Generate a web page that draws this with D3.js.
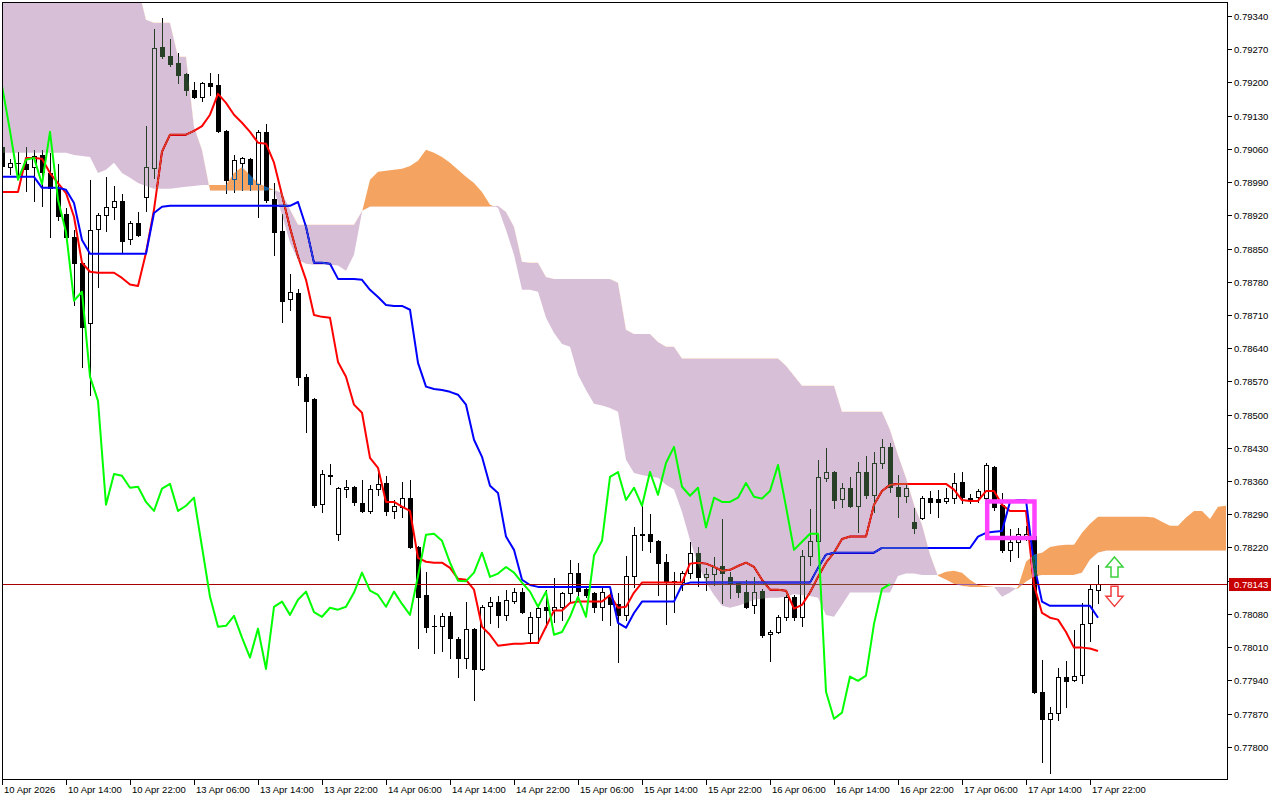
<!DOCTYPE html>
<html><head><meta charset="utf-8">
<script src="https://cdn.jsdelivr.net/npm/d3@7"></script>
<style>
html,body{margin:0;padding:0;background:#fff;}
svg{display:block;}
text{font-family:"Liberation Sans",Arial,sans-serif;font-size:9.5px;}
</style></head><body>
<svg id="chart" width="1280" height="800"></svg>
<script>
// ---- DATA (H1 bars, 10 Apr 06:00 .. 17 Apr 23:00) ----
const opens = [0.79064,0.79022,0.79031,0.79028,0.79022,0.79047,0.79009,0.78978,0.78923,0.78875,
 0.78820,0.78693,0.78891,0.78921,0.78938,0.78950,0.78870,0.78904,0.78959,0.79020,
 0.79275,0.79256,0.79241,0.79218,0.79184,0.79170,0.79199,0.79195,0.79098,0.78997,
 0.79031,0.79039,0.78986,0.79096,0.78955,0.78887,0.78744,0.78757,0.78580,0.78533,
 0.78312,0.78373,0.78249,0.78344,0.78348,0.78314,0.78297,0.78344,0.78356,0.78297,
 0.78306,0.78325,0.78222,0.78120,0.78054,0.78055,0.78076,0.78028,0.77988,0.78049,
 0.77964,0.78097,0.78106,0.78078,0.78108,0.78127,0.78040,0.78074,0.78095,0.78089,
 0.78095,0.78125,0.78167,0.78133,0.78125,0.78095,0.78120,0.78101,0.78078,0.78160,
 0.78247,0.78249,0.78234,0.78190,0.78150,0.78148,0.78167,0.78209,0.78158,0.78165,
 0.78181,0.78158,0.78146,0.78127,0.78099,0.78129,0.78038,0.78042,0.78074,0.78116,
 0.78074,0.78203,0.78234,0.78367,0.78380,0.78323,0.78346,0.78308,0.78379,0.78331,
 0.78398,0.78432,0.78348,0.78329,0.78274,0.78283,0.78325,0.78323,0.78318,0.78325,
 0.78358,0.78325,0.78327,0.78325,0.78390,0.78310,0.78215,0.78232,0.78243,0.78245,
 0.77916,0.77859,0.77872,0.77948,0.77941,0.77952,0.78061,0.78130];
const highs = [0.79066,0.79039,0.79054,0.79064,0.79058,0.79058,0.79052,0.79028,0.78936,0.78889,
 0.78822,0.78995,0.78925,0.79001,0.78982,0.78965,0.78908,0.78927,0.79108,0.79313,
 0.79336,0.79292,0.79262,0.79220,0.79201,0.79201,0.79220,0.79218,0.79100,0.79047,
 0.79043,0.79041,0.79100,0.79113,0.78988,0.78923,0.78797,0.78765,0.78586,0.78535,
 0.78384,0.78396,0.78348,0.78363,0.78350,0.78363,0.78352,0.78377,0.78371,0.78320,
 0.78358,0.78363,0.78224,0.78169,0.78078,0.78082,0.78084,0.78032,0.78106,0.78051,
 0.78099,0.78116,0.78118,0.78131,0.78135,0.78135,0.78084,0.78099,0.78131,0.78156,
 0.78127,0.78194,0.78188,0.78139,0.78127,0.78137,0.78131,0.78125,0.78203,0.78264,
 0.78308,0.78291,0.78236,0.78207,0.78169,0.78170,0.78232,0.78221,0.78177,0.78200,
 0.78280,0.78169,0.78148,0.78152,0.78158,0.78133,0.78047,0.78078,0.78120,0.78120,
 0.78215,0.78302,0.78405,0.78430,0.78382,0.78356,0.78369,0.78401,0.78413,0.78422,
 0.78449,0.78441,0.78373,0.78352,0.78304,0.78329,0.78339,0.78342,0.78346,0.78377,
 0.78379,0.78333,0.78344,0.78398,0.78392,0.78335,0.78259,0.78262,0.78266,0.78262,
 0.77983,0.77884,0.77966,0.77981,0.78047,0.78103,0.78141,0.78184];
const lows = [0.79020,0.79007,0.79001,0.78972,0.78950,0.78940,0.78875,0.78910,0.78868,0.78731,
 0.78601,0.78542,0.78769,0.78887,0.78913,0.78841,0.78860,0.78877,0.78929,0.78999,
 0.79252,0.79235,0.79199,0.79174,0.79167,0.79161,0.79174,0.79096,0.78967,0.78969,
 0.78974,0.78974,0.78917,0.78948,0.78837,0.78696,0.78721,0.78563,0.78464,0.78306,
 0.78295,0.78354,0.78236,0.78327,0.78310,0.78295,0.78293,0.78331,0.78289,0.78283,
 0.78285,0.78219,0.78009,0.78042,0.77998,0.78002,0.77988,0.77948,0.77966,0.77899,
 0.77962,0.78061,0.78053,0.78068,0.78103,0.78082,0.78021,0.78019,0.78053,0.78063,
 0.78068,0.78106,0.78120,0.78116,0.78084,0.78068,0.78057,0.77979,0.78068,0.78137,
 0.78215,0.78211,0.78120,0.78059,0.78084,0.78131,0.78156,0.78139,0.78131,0.78141,
 0.78103,0.78114,0.78116,0.78093,0.78082,0.78032,0.77981,0.78040,0.78068,0.78068,
 0.78055,0.78184,0.78230,0.78361,0.78304,0.78306,0.78306,0.78253,0.78325,0.78295,
 0.78388,0.78337,0.78285,0.78316,0.78251,0.78280,0.78293,0.78285,0.78314,0.78314,
 0.78314,0.78314,0.78316,0.78321,0.78299,0.78211,0.78192,0.78200,0.78236,0.77914,
 0.77768,0.77745,0.77857,0.77884,0.77939,0.77935,0.78023,0.78103];
const closes = [0.79024,0.79031,0.79031,0.79018,0.79045,0.79012,0.78978,0.78919,0.78875,0.78820,
 0.78685,0.78889,0.78921,0.78938,0.78950,0.78866,0.78904,0.78879,0.79022,0.79273,
 0.79256,0.79239,0.79216,0.79184,0.79170,0.79199,0.79193,0.79098,0.78995,0.79037,
 0.79041,0.78986,0.79096,0.78953,0.78885,0.78740,0.78759,0.78580,0.78529,0.78310,
 0.78375,0.78371,0.78346,0.78348,0.78316,0.78297,0.78344,0.78354,0.78297,0.78308,
 0.78325,0.78221,0.78116,0.78053,0.78055,0.78076,0.78030,0.77988,0.78049,0.77964,
 0.78095,0.78106,0.78078,0.78110,0.78127,0.78084,0.78074,0.78093,0.78089,0.78095,
 0.78125,0.78167,0.78129,0.78120,0.78095,0.78127,0.78101,0.78078,0.78160,0.78247,
 0.78249,0.78234,0.78188,0.78150,0.78149,0.78167,0.78209,0.78158,0.78165,0.78179,
 0.78167,0.78146,0.78127,0.78095,0.78127,0.78036,0.78042,0.78074,0.78116,0.78074,
 0.78203,0.78234,0.78369,0.78379,0.78320,0.78346,0.78308,0.78379,0.78331,0.78398,
 0.78432,0.78348,0.78329,0.78346,0.78262,0.78325,0.78316,0.78316,0.78325,0.78356,
 0.78327,0.78323,0.78339,0.78394,0.78306,0.78215,0.78232,0.78249,0.78249,0.77916,
 0.77859,0.77872,0.77948,0.77939,0.77950,0.78059,0.78133,0.78143];

// Tenkan-sen (red)
const tenkan = [0.78969,0.78969,0.78969,0.79041,0.79041,0.79039,0.79009,0.78988,0.78967,0.78917,
 0.78820,0.78801,0.78799,0.78799,0.78799,0.78788,0.78774,0.78771,0.78841,0.78932,
 0.79054,0.79090,0.79090,0.79090,0.79098,0.79108,0.79132,0.79176,0.79157,0.79132,
 0.79115,0.79096,0.79073,0.79071,0.79031,0.78963,0.78894,0.78833,0.78784,0.78710,
 0.78706,0.78704,0.78611,0.78580,0.78521,0.78504,0.78409,0.78388,0.78316,0.78316,
 0.78306,0.78297,0.78198,0.78190,0.78188,0.78188,0.78177,0.78154,0.78152,0.78131,
 0.78053,0.78036,0.78013,0.78015,0.78017,0.78017,0.78019,0.78019,0.78053,0.78087,
 0.78087,0.78103,0.78106,0.78106,0.78106,0.78106,0.78120,0.78093,0.78095,0.78125,
 0.78146,0.78146,0.78146,0.78146,0.78146,0.78146,0.78186,0.78188,0.78186,0.78179,
 0.78171,0.78173,0.78181,0.78188,0.78179,0.78152,0.78131,0.78131,0.78129,0.78091,
 0.78099,0.78125,0.78158,0.78188,0.78209,0.78238,0.78243,0.78243,0.78243,0.78310,
 0.78339,0.78352,0.78354,0.78354,0.78354,0.78354,0.78354,0.78354,0.78354,0.78342,
 0.78320,0.78318,0.78318,0.78339,0.78339,0.78310,0.78297,0.78297,0.78297,0.78141,
 0.78082,0.78072,0.78068,0.78042,0.78009,0.78009,0.78007,0.78002];
// Kijun-sen (blue)
const kijun = [0.79001,0.79001,0.79001,0.79001,0.79001,0.78978,0.78978,0.78978,0.78974,0.78946,
 0.78868,0.78839,0.78839,0.78839,0.78839,0.78839,0.78839,0.78839,0.78839,0.78925,
 0.78938,0.78940,0.78940,0.78940,0.78940,0.78940,0.78940,0.78940,0.78940,0.78940,
 0.78940,0.78940,0.78940,0.78940,0.78940,0.78940,0.78940,0.78948,0.78896,0.78820,
 0.78820,0.78818,0.78786,0.78786,0.78786,0.78784,0.78763,0.78748,0.78731,0.78729,
 0.78729,0.78721,0.78609,0.78559,0.78554,0.78552,0.78548,0.78542,0.78521,0.78447,
 0.78411,0.78350,0.78335,0.78243,0.78215,0.78152,0.78141,0.78137,0.78137,0.78137,
 0.78137,0.78137,0.78137,0.78137,0.78137,0.78137,0.78137,0.78061,0.78051,0.78082,
 0.78106,0.78106,0.78106,0.78106,0.78106,0.78141,0.78146,0.78146,0.78146,0.78146,
 0.78146,0.78146,0.78146,0.78146,0.78146,0.78146,0.78146,0.78146,0.78146,0.78146,
 0.78146,0.78146,0.78177,0.78205,0.78209,0.78209,0.78209,0.78209,0.78209,0.78209,
 0.78219,0.78219,0.78219,0.78219,0.78219,0.78219,0.78219,0.78219,0.78219,0.78219,
 0.78219,0.78219,0.78243,0.78251,0.78253,0.78255,0.78316,0.78320,0.78320,0.78184,
 0.78106,0.78097,0.78097,0.78097,0.78097,0.78097,0.78097,0.78072];
// Chikou span (green), bars 0..111
const chikou = [0.79193,0.79098,0.78995,0.79037,0.79041,0.78986,0.79096,0.78953,0.78885,0.78740,
 0.78759,0.78580,0.78529,0.78310,0.78375,0.78371,0.78346,0.78348,0.78316,0.78297,
 0.78344,0.78354,0.78297,0.78308,0.78325,0.78221,0.78116,0.78053,0.78055,0.78076,
 0.78030,0.77988,0.78049,0.77964,0.78095,0.78106,0.78078,0.78110,0.78127,0.78084,
 0.78074,0.78093,0.78089,0.78095,0.78125,0.78167,0.78129,0.78120,0.78095,0.78127,
 0.78101,0.78078,0.78160,0.78247,0.78249,0.78234,0.78188,0.78150,0.78149,0.78167,
 0.78209,0.78158,0.78165,0.78179,0.78167,0.78146,0.78127,0.78095,0.78127,0.78036,
 0.78042,0.78074,0.78116,0.78074,0.78203,0.78234,0.78369,0.78379,0.78320,0.78346,
 0.78308,0.78379,0.78331,0.78398,0.78432,0.78348,0.78329,0.78346,0.78262,0.78325,
 0.78316,0.78316,0.78325,0.78356,0.78327,0.78323,0.78339,0.78394,0.78306,0.78215,
 0.78232,0.78249,0.78249,0.77916,0.77859,0.77872,0.77948,0.77939,0.77950,0.78059,
 0.78133,0.78143];
// Senkou span A / B (bars 0..153, already shifted forward)
const senkouA = [0.79052,0.79052,0.79052,0.79052,0.79052,0.79052,0.79052,0.79052,0.79052,0.79047,
 0.79045,0.79043,0.79009,0.79016,0.79031,0.79009,0.78999,0.78988,0.78982,0.78976,
 0.78976,0.78976,0.78978,0.78980,0.78982,0.78984,0.78984,0.78984,0.78984,0.79009,
 0.79022,0.79005,0.78988,0.78980,0.78974,0.78921,0.78862,0.78826,0.78818,0.78816,
 0.78816,0.78816,0.78814,0.78803,0.78837,0.78927,0.78995,0.79012,0.79014,0.79016,
 0.79018,0.79024,0.79035,0.79058,0.79052,0.79043,0.79031,0.79016,0.79001,0.78988,
 0.78969,0.78942,0.78936,0.78889,0.78837,0.78763,0.78763,0.78759,0.78704,0.78672,
 0.78649,0.78643,0.78584,0.78552,0.78523,0.78519,0.78514,0.78506,0.78405,0.78377,
 0.78373,0.78369,0.78367,0.78352,0.78342,0.78295,0.78236,0.78184,0.78146,0.78120,
 0.78097,0.78093,0.78097,0.78103,0.78110,0.78112,0.78114,0.78114,0.78116,0.78122,
 0.78120,0.78118,0.78114,0.78078,0.78074,0.78099,0.78125,0.78125,0.78125,0.78125,
 0.78125,0.78125,0.78160,0.78165,0.78165,0.78162,0.78162,0.78162,0.78169,0.78171,
 0.78167,0.78152,0.78141,0.78139,0.78137,0.78116,0.78125,0.78137,0.78190,0.78205,
 0.78209,0.78221,0.78224,0.78226,0.78226,0.78251,0.78270,0.78285,0.78285,0.78285,
 0.78285,0.78285,0.78285,0.78285,0.78283,0.78274,0.78266,0.78266,0.78283,0.78297,
 0.78297,0.78280,0.78306,0.78308];
const senkouB = [0.79400,0.79400,0.79400,0.79400,0.79400,0.79400,0.79400,0.79400,0.79400,0.79400,
 0.79400,0.79400,0.79400,0.79400,0.79400,0.79400,0.79400,0.79400,0.79332,0.79326,
 0.79326,0.79326,0.79254,0.79254,0.79106,0.79058,0.78972,0.78972,0.78972,0.78972,
 0.78972,0.78972,0.78972,0.78972,0.78974,0.78967,0.78932,0.78900,0.78900,0.78900,
 0.78900,0.78900,0.78900,0.78900,0.78900,0.78929,0.78938,0.78938,0.78938,0.78938,
 0.78938,0.78938,0.78938,0.78938,0.78938,0.78938,0.78938,0.78938,0.78938,0.78938,
 0.78938,0.78938,0.78940,0.78927,0.78896,0.78822,0.78820,0.78820,0.78790,0.78786,
 0.78786,0.78786,0.78786,0.78786,0.78786,0.78786,0.78786,0.78778,0.78679,0.78670,
 0.78670,0.78670,0.78653,0.78643,0.78643,0.78618,0.78618,0.78618,0.78618,0.78618,
 0.78618,0.78618,0.78618,0.78618,0.78618,0.78618,0.78618,0.78618,0.78603,0.78582,
 0.78561,0.78561,0.78561,0.78561,0.78561,0.78506,0.78506,0.78506,0.78506,0.78506,
 0.78506,0.78468,0.78415,0.78367,0.78310,0.78268,0.78205,0.78160,0.78152,0.78143,
 0.78139,0.78137,0.78137,0.78137,0.78137,0.78137,0.78137,0.78133,0.78148,0.78158,
 0.78162,0.78162,0.78162,0.78162,0.78162,0.78167,0.78194,0.78209,0.78213,0.78213,
 0.78213,0.78213,0.78213,0.78213,0.78213,0.78213,0.78213,0.78213,0.78213,0.78213,
 0.78213,0.78213,0.78213,0.78213];

const timeLabels = ["10 Apr 2026","10 Apr 14:00","10 Apr 22:00","13 Apr 06:00","13 Apr 14:00","13 Apr 22:00",
 "14 Apr 06:00","14 Apr 14:00","14 Apr 22:00","15 Apr 06:00","15 Apr 14:00","15 Apr 22:00",
 "16 Apr 06:00","16 Apr 14:00","16 Apr 22:00","17 Apr 06:00","17 Apr 14:00","17 Apr 22:00"];
const timeLabelBars = [0,8,16,24,32,40,48,56,64,72,80,88,96,104,112,120,128,136];
const priceTicks = [0.79340,0.79270,0.79200,0.79130,0.79060,0.78990,0.78920,0.78850,0.78780,0.78710,
 0.78640,0.78570,0.78500,0.78430,0.78360,0.78290,0.78220,0.78150,0.78080,0.78010,0.77940,0.77870,0.77800];
const lastPrice = 0.78143;
const boxBars = [123.15, 129.06];
const boxPrices = [0.78317, 0.78240];
const signalBars = [139, 139];
const signalPrices = [0.78179, 0.78117];
const signalDirs = ["up", "down"];

// ---- DRAW ----
const svg = d3.select("#chart");
svg.append("rect").attr("width",1280).attr("height",800).attr("fill","#fff");

const x = d3.scaleLinear().domain([0,153]).range([2,1226]);
const y = d3.scaleLinear().domain([0.77800,0.79340]).range([746.8,16]);

const defs = svg.append("defs");
defs.append("clipPath").attr("id","plotClip").append("rect")
  .attr("x",3).attr("y",3).attr("width",1224).attr("height",776);

const gPlot = svg.append("g").attr("clip-path","url(#plotClip)");
gPlot.append("rect").attr("x",0).attr("y",0).attr("width",1280).attr("height",800).attr("fill","#fff");

// candles
const bars = closes.map((c,i)=>({i,o:opens[i],h:highs[i],l:lows[i],c}));
const gC = gPlot.append("g").attr("shape-rendering","crispEdges");
const cg = gC.selectAll("g").data(bars).join("g");
cg.each(function(b){
  const g = d3.select(this);
  const cx = Math.round(x(b.i));
  const yo=Math.round(y(b.o)), yc=Math.round(y(b.c)), yh=Math.round(y(b.h)), yl=Math.round(y(b.l));
  const top=Math.min(yo,yc), bot=Math.max(yo,yc);
  g.append("line").attr("x1",cx+0.5).attr("x2",cx+0.5).attr("y1",yh).attr("y2",yl+1)
    .attr("stroke","#000").attr("stroke-width",1);
  if (bot-top < 1) {
    g.append("rect").attr("x",cx-2).attr("y",top).attr("width",5).attr("height",1).attr("fill","#000");
  } else if (b.c >= b.o) {
    g.append("rect").attr("x",cx-1.5).attr("y",top+0.5).attr("width",4).attr("height",bot-top)
      .attr("fill","#fff").attr("stroke","#000").attr("stroke-width",1);
  } else {
    g.append("rect").attr("x",cx-2).attr("y",top).attr("width",5).attr("height",bot-top+1).attr("fill","#000");
  }
});

// tenkan / kijun lines
const lineGen = d3.line().x(d=>x(d[0])).y(d=>y(d[1]));
gPlot.append("path").datum(tenkan.map((v,i)=>[i,v])).attr("d",lineGen)
  .attr("fill","none").attr("stroke","#ff0000").attr("stroke-width",2).attr("stroke-linejoin","round");
gPlot.append("path").datum(kijun.map((v,i)=>[i,v])).attr("d",lineGen)
  .attr("fill","none").attr("stroke","#0000ff").attr("stroke-width",2).attr("stroke-linejoin","round");

// last price line
const yLast = Math.round(y(lastPrice))+0.5;
gPlot.append("line").attr("x1",3).attr("x2",1227).attr("y1",yLast).attr("y2",yLast)
  .attr("stroke","#a80000").attr("stroke-width",1).attr("shape-rendering","crispEdges");

// cloud (drawn in difference mode like the terminal's XOR painting)
const idx = d3.range(senkouA.length);
const band = d3.area().x(i=>x(i)).y0(i=>y(senkouA[i])).y1(i=>y(senkouB[i]));
const aboveB = d3.area().x(i=>x(i)).y0(-100).y1(i=>y(senkouB[i]));
const belowB = d3.area().x(i=>x(i)).y0(900).y1(i=>y(senkouB[i]));
defs.append("clipPath").attr("id","clipAboveB").append("path").attr("d",aboveB(idx));
defs.append("clipPath").attr("id","clipBelowB").append("path").attr("d",belowB(idx));
const gCloud = gPlot.append("g").style("mix-blend-mode","difference");
gCloud.append("path").attr("d",band(idx)).attr("fill","rgb(11,91,159)").attr("clip-path","url(#clipAboveB)");
gCloud.append("path").attr("d",band(idx)).attr("fill","rgb(39,64,39)").attr("clip-path","url(#clipBelowB)");

// chikou line (on top of the cloud)
gPlot.append("path").datum(chikou.map((v,i)=>[i,v])).attr("d",lineGen)
  .attr("fill","none").attr("stroke","#00ff00").attr("stroke-width",2).attr("stroke-linejoin","round");

// magenta annotation box
gPlot.append("rect")
  .attr("x",x(boxBars[0])).attr("y",y(boxPrices[0]))
  .attr("width",x(boxBars[1])-x(boxBars[0])).attr("height",y(boxPrices[1])-y(boxPrices[0]))
  .attr("fill","none").attr("stroke","#ff40ff").attr("stroke-width",4.5);

// signal arrows
signalBars.forEach((b,k)=>{
  const cx = x(b)+0.5, cy = y(signalPrices[k]);
  const s = signalDirs[k]==="up" ? 1 : -1;
  const pts = [[0,-10],[8.5,0],[3.5,0],[3.5,10],[-3.5,10],[-3.5,0],[-8.5,0]]
    .map(p=>[cx+p[0], cy+s*p[1]]);
  gPlot.append("path").attr("d","M"+pts.map(p=>p.join(",")).join("L")+"Z")
    .attr("fill","#fff").attr("stroke", s>0 ? "#3cd23c" : "#f03c3c").attr("stroke-width",1.5);
});

// frame
svg.append("rect").attr("x",2.5).attr("y",2.5).attr("width",1225).attr("height",777)
  .attr("fill","none").attr("stroke","#000").attr("stroke-width",1).attr("shape-rendering","crispEdges");

// price axis
const fmt = d3.format(".5f");
const gY = svg.append("g");
priceTicks.forEach(p=>{
  const yy = Math.round(y(p))+0.5;
  gY.append("line").attr("x1",1228).attr("x2",1232).attr("y1",yy).attr("y2",yy)
    .attr("stroke","#000").attr("shape-rendering","crispEdges");
  // a label hidden under the last-price marker is not printed
  if (Math.abs(yy - yLast) > 9) {
    gY.append("text").attr("x",1234).attr("y",yy+3.5).attr("fill","#000").text(fmt(p));
  }
});
gY.append("rect").attr("x",1229).attr("y",yLast-6.5).attr("width",42).attr("height",13).attr("fill","#c80000");
gY.append("text").attr("x",1234).attr("y",yLast+3.5).attr("fill","#fff").text(fmt(lastPrice));

// time axis
const gX = svg.append("g");
timeLabelBars.forEach((b,k)=>{
  const xx = Math.round(x(b))+0.5;
  gX.append("line").attr("x1",xx).attr("x2",xx).attr("y1",780).attr("y2",785)
    .attr("stroke","#000").attr("shape-rendering","crispEdges");
  gX.append("text").attr("x",xx+1.5).attr("y",793).attr("fill","#000").text(timeLabels[k]);
});
</script>
</body></html>
